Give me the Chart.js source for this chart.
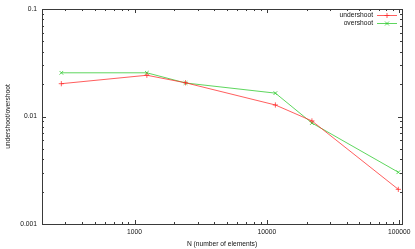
<!DOCTYPE html>
<html>
<head>
<meta charset="utf-8">
<script src="https://cdn.jsdelivr.net/npm/chart.js@4"></script>
<style>
  html, body { margin: 0; padding: 0; background: #fff; }
  #wrap { width: 415px; height: 249px; }
</style>
</head>
<body>
<div id="wrap"><canvas id="graph" width="415" height="249"></canvas></div>
<script>
// values (log-log plot)
var nValues = [280, 1240, 2430, 11600, 21900, 98500];
var undershoot = [0.0202, 0.0242, 0.0206, 0.0128, 0.0091, 0.0021];
var overshoot = [0.0255, 0.0255, 0.0205, 0.0165, 0.0087, 0.00303];
var seriesNames = ["undershoot", "overshoot"];
var xTickLabels = {3: "1000", 4: "10000", 5: "100000"};
var yTickLabels = {"-1": "0.1", "-2": "0.01", "-3": "0.001"};

var FONT = {family: "'Liberation Sans', Arial, sans-serif", size: 6.7};
var TEXT = "#111";
var AXIS = "#3a3a3a";

function pts(ys) {
  return nValues.map(function (n, i) { return {x: n, y: ys[i]}; });
}

function decadeLabel(table, v) {
  var e = Math.log10(v);
  var r = Math.round(e);
  if (Math.abs(e - r) < 1e-6 && table[r] !== undefined) return table[r];
  return "";
}

// gnuplot style border with inward ticks on all four sides + legend
var gnuplotFrame = {
  id: "gnuplotFrame",
  afterDraw: function (chart) {
    var ctx = chart.ctx, a = chart.chartArea;
    var xs = chart.scales.x, ys = chart.scales.y;
    ctx.save();
    ctx.strokeStyle = AXIS;
    ctx.lineWidth = 1;
    ctx.strokeRect(Math.round(a.left) + 0.5, Math.round(a.top) + 0.5,
                   Math.round(a.right - a.left), Math.round(a.bottom - a.top));
    ctx.beginPath();
    function each(scale, cb) {
      var e0 = Math.floor(Math.log10(scale.min)), e1 = Math.ceil(Math.log10(scale.max));
      for (var e = e0; e <= e1; e++) {
        for (var m = 1; m <= 9; m++) {
          var v = m * Math.pow(10, e);
          if (v < scale.min * 0.999 || v > scale.max * 1.001) continue;
          cb(Math.round(scale.getPixelForValue(v)) + 0.5, m === 1 ? 4 : 2);
        }
      }
    }
    each(xs, function (p, len) {
      ctx.moveTo(p, a.bottom); ctx.lineTo(p, a.bottom - len);
      ctx.moveTo(p, a.top); ctx.lineTo(p, a.top + len);
    });
    each(ys, function (p, len) {
      ctx.moveTo(a.left, p); ctx.lineTo(a.left + len, p);
      ctx.moveTo(a.right, p); ctx.lineTo(a.right - len, p);
    });
    ctx.stroke();

    // legend
    ctx.font = FONT.size + "px " + FONT.family;
    ctx.textAlign = "right";
    ctx.textBaseline = "middle";
    chart.data.datasets.forEach(function (ds, i) {
      var y = 15.5 + i * 8;
      ctx.fillStyle = TEXT;
      ctx.fillText(ds.label, 373, y);
      ctx.strokeStyle = ds.borderColor;
      ctx.beginPath();
      ctx.moveTo(377, y); ctx.lineTo(397, y);
      ctx.stroke();
      ctx.beginPath();
      if (ds.pointStyle === "cross") {
        ctx.moveTo(387 - 2.5, y); ctx.lineTo(387 + 2.5, y);
        ctx.moveTo(387, y - 2.5); ctx.lineTo(387, y + 2.5);
      } else {
        ctx.moveTo(387 - 2, y - 2); ctx.lineTo(387 + 2, y + 2);
        ctx.moveTo(387 - 2, y + 2); ctx.lineTo(387 + 2, y - 2);
      }
      ctx.stroke();
    });
    ctx.restore();
  }
};

const graph = new Chart("graph", {
  type: "line",
  data: {
    datasets: [{
      label: seriesNames[0],
      data: pts(undershoot),
      borderColor: "rgba(255,40,40,0.75)",
      backgroundColor: "rgba(255,40,40,0.75)",
      borderWidth: 1,
      pointStyle: "cross",
      pointRadius: 2.6,
      pointBorderWidth: 1,
      tension: 0
    }, {
      label: seriesNames[1],
      data: pts(overshoot),
      borderColor: "rgba(40,200,40,0.75)",
      backgroundColor: "rgba(40,200,40,0.75)",
      borderWidth: 1,
      pointStyle: "crossRot",
      pointRadius: 2.6,
      pointBorderWidth: 1,
      tension: 0
    }]
  },
  options: {
    responsive: false,
    animation: false,
    layout: {padding: {top: 7, right: 13, left: 0, bottom: 0}},
    plugins: {legend: {display: false}, tooltip: {enabled: false}},
    scales: {
      x: {
        type: "logarithmic",
        min: 200, max: 105000,
        grid: {display: false, drawTicks: false},
        border: {display: false},
        ticks: {
          autoSkip: false, maxRotation: 0, padding: 4,
          color: TEXT, font: FONT,
          callback: function (v) { return decadeLabel(xTickLabels, v); }
        },
        title: {display: true, text: "N (number of elements)", color: TEXT, font: FONT,
                padding: {top: 0, bottom: 1}},
        afterFit: function (s) { s.height = 25; }
      },
      y: {
        type: "logarithmic",
        min: 0.001, max: 0.1,
        grid: {display: false, drawTicks: false},
        border: {display: false},
        ticks: {
          autoSkip: false, padding: 5,
          color: TEXT, font: FONT,
          callback: function (v) { return decadeLabel(yTickLabels, v); }
        },
        title: {display: true, text: "undershoot/overshoot", color: TEXT, font: FONT,
                padding: {top: 4, bottom: 0}},
        afterFit: function (s) { s.width = 42; }
      }
    }
  },
  plugins: [gnuplotFrame]
});
</script>
</body>
</html>
